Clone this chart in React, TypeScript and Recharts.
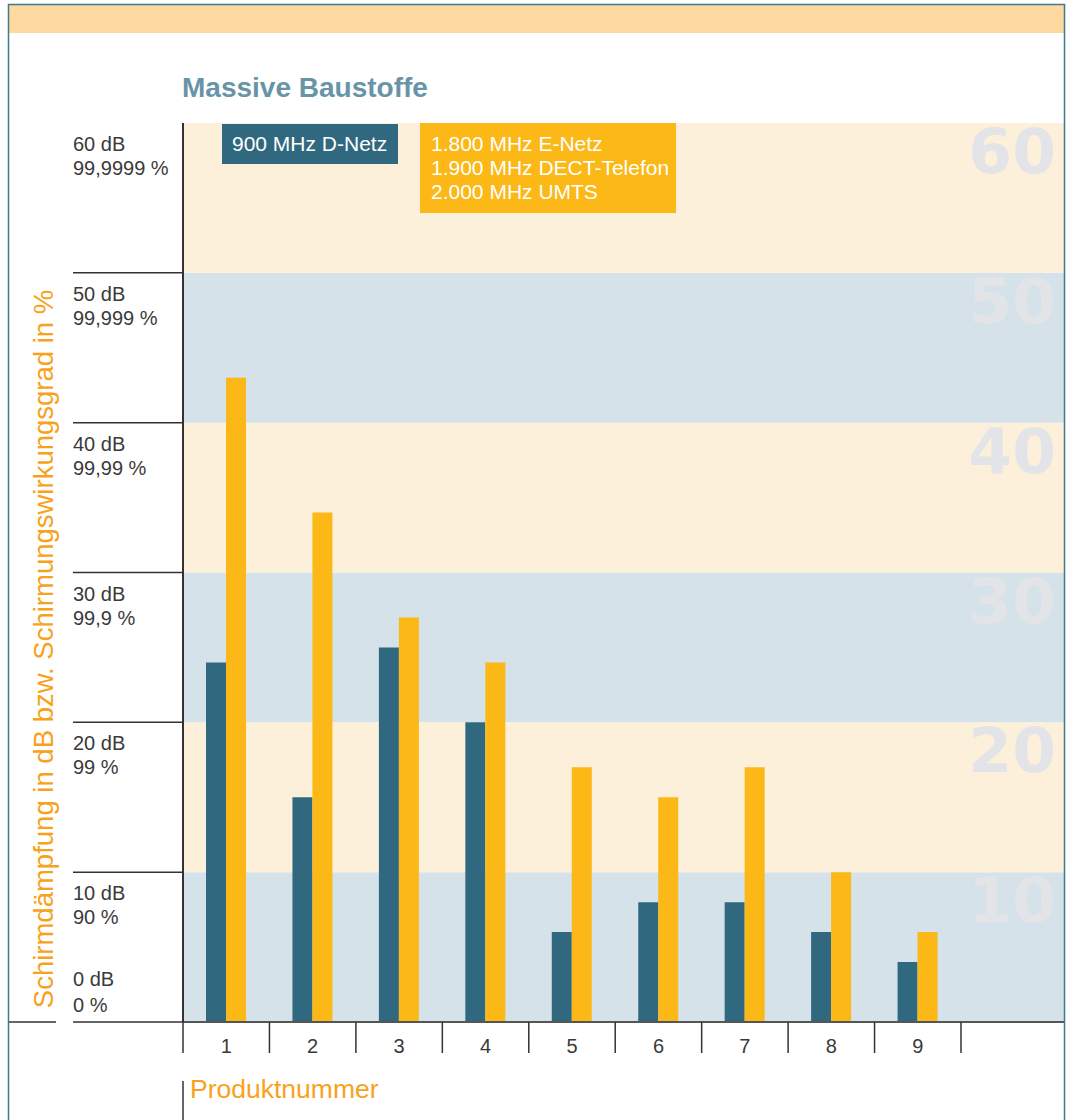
import React from 'react';
import { BarChart, Bar, XAxis, YAxis, ReferenceArea } from 'recharts';

// ---------- data ----------
const products = ['1', '2', '3', '4', '5', '6', '7', '8', '9'];
const dNetz900 = [24, 15, 25, 20, 6, 8, 8, 6, 4];
const highFreq = [43, 34, 27, 24, 17, 15, 17, 10, 6];
const yTicks = [0, 10, 20, 30, 40, 50, 60];
const yDbLabels = ['0 dB', '10 dB', '20 dB', '30 dB', '40 dB', '50 dB', '60 dB'];
const yPercentLabels = ['0 %', '90 %', '99 %', '99,9 %', '99,99 %', '99,999 %', '99,9999 %'];
const bandStarts = [0, 10, 20, 30, 40, 50];
const bandNumbers = ['10', '20', '30', '40', '50', '60'];
const titleText = 'Massive Baustoffe';
const series1Name = '900 MHz D-Netz';
const series2Lines = ['1.800 MHz E-Netz', '1.900 MHz DECT-Telefon', '2.000 MHz UMTS'];
const yTitle = 'Schirmdämpfung in dB bzw. Schirmungswirkungsgrad in %';
const xTitle = 'Produktnummer';

const data = products.map((p, i) => ({ product: p, d900: dNetz900[i], hf: highFreq[i] }));

// ---------- style / layout ----------
const W = 1072;
const H = 1120;
const PLOT_LEFT = 183;
const PLOT_RIGHT = 1064;
const PLOT_TOP = 123;
const PLOT_BOTTOM = 1022;
const PAD_RIGHT = 103;
const BW = (PLOT_RIGHT - PLOT_LEFT - PAD_RIGHT) / products.length;
const FONT = '"Liberation Sans", Arial, Helvetica, sans-serif';
const TEAL = '#30697f';
const ORANGE = '#fbb817';
const BAND_BLUE = '#d5e2ea';
const BAND_ORANGE = '#fdf0da';
const TEXT = '#3a3a3a';
const TITLE_ORANGE = '#f8a21c';
const BORDER = '#3f7a8e';
const Y_DOMAIN: [number, number] = [0, 60];

const YTick = (props: any) => {
  const { y, payload } = props;
  const idx = yTicks.indexOf(payload.value);
  const v = payload.value;
  const isTop = v === yTicks[yTicks.length - 1];
  const isZero = v === 0;
  const t1 = isZero ? y - 36 : y + 28;
  const t2 = isZero ? y - 10 : y + 52;
  return (
    <g>
      {!isTop && <line x1={73} x2={PLOT_LEFT} y1={y} y2={y} stroke="#333" strokeWidth={1.5} />}
      {isZero && <line x1={8} x2={56} y1={y} y2={y} stroke="#333" strokeWidth={1.5} />}
      <text x={73} y={t1} fontFamily={FONT} fontSize={20} fill={TEXT}>{yDbLabels[idx]}</text>
      <text x={73} y={t2} fontFamily={FONT} fontSize={20} fill={TEXT}>{yPercentLabels[idx]}</text>
    </g>
  );
};

const XTick = (props: any) => {
  const { x, payload, index } = props;
  const last = index === products.length - 1;
  return (
    <g>
      <line x1={x - BW / 2} x2={x - BW / 2} y1={PLOT_BOTTOM} y2={PLOT_BOTTOM + 31} stroke="#333" strokeWidth={1.5} />
      {last && <line x1={x + BW / 2} x2={x + BW / 2} y1={PLOT_BOTTOM} y2={PLOT_BOTTOM + 31} stroke="#333" strokeWidth={1.5} />}
      <text x={x} y={PLOT_BOTTOM + 31} textAnchor="middle" fontFamily={FONT} fontSize={20} fill={TEXT}>
        {payload.value}
      </text>
    </g>
  );
};

const BandNumber = (props: any) => {
  const { viewBox, text } = props;
  if (!viewBox) return null;
  return (
    <text
      x={viewBox.x + viewBox.width - 8}
      y={viewBox.y + 50}
      textAnchor="end"
      fontFamily='"DejaVu Sans", sans-serif'
      fontWeight="bold"
      fontSize={63}
      fill="#e3e4e8"
    >
      {text}
    </text>
  );
};

export default function App() {
  return (
    <div style={{ position: 'absolute', left: 0, top: 0, width: W, height: H, background: '#fff' }}>
      {/* background bands, drawn with the same y scale (no x padding, so they span the full plot width) */}
      <div style={{ position: 'absolute', left: 0, top: 0, zIndex: 0 }}>
        <BarChart
          width={W}
          height={H}
          data={data}
          margin={{ top: PLOT_TOP, right: W - PLOT_RIGHT, bottom: 0, left: 0 }}
        >
          <XAxis dataKey="product" height={H - PLOT_BOTTOM} axisLine={false} tickLine={false} tick={false} />
          <YAxis width={PLOT_LEFT} domain={Y_DOMAIN} ticks={yTicks} axisLine={false} tickLine={false} tick={false} />
          {bandStarts.map((s, i) => (
            <ReferenceArea
              key={s}
              y1={s}
              y2={s + 10}
              fill={i % 2 === 0 ? BAND_BLUE : BAND_ORANGE}
              fillOpacity={1}
              stroke="none"
              ifOverflow="visible"
              label={<BandNumber text={bandNumbers[i]} />}
            />
          ))}
          <Bar dataKey="d900" fill="none" fillOpacity={0} isAnimationActive={false} />
        </BarChart>
      </div>
      <div style={{ position: 'absolute', left: 0, top: 0, zIndex: 1 }}>
        <BarChart
          width={W}
          height={H}
          data={data}
          margin={{ top: PLOT_TOP, right: W - PLOT_RIGHT, bottom: 0, left: 0 }}
          barGap={0}
        >
          <XAxis
            dataKey="product"
            height={H - PLOT_BOTTOM}
            padding={{ left: 0, right: PAD_RIGHT }}
            axisLine={{ stroke: '#555', strokeWidth: 2 }}
            tickLine={false}
            tick={<XTick />}
            interval={0}
          />
          <YAxis
            width={PLOT_LEFT}
            domain={Y_DOMAIN}
            ticks={yTicks}
            interval={0}
            axisLine={{ stroke: '#333', strokeWidth: 2 }}
            tickLine={false}
            tick={<YTick />}
          />
          <Bar dataKey="d900" name={series1Name} fill={TEAL} barSize={20} isAnimationActive={false} />
          <Bar dataKey="hf" name={series2Lines.join(', ')} fill={ORANGE} barSize={20} isAnimationActive={false} />
        </BarChart>
      </div>
      <svg
        width={W}
        height={H}
        style={{ position: 'absolute', left: 0, top: 0, pointerEvents: 'none', zIndex: 2 }}
      >
        <rect x={9} y={5} width={1055} height={28} fill="#fdd9a0" />
        <rect x={8.5} y={4.5} width={1056} height={1130} fill="none" stroke={BORDER} strokeWidth={1.5} />
        <text x={182} y={97} fontFamily={FONT} fontWeight="bold" fontSize={28} fill="#6894a8">
          {titleText}
        </text>
        <rect x={222} y={124} width={176} height={40} fill={TEAL} />
        <text x={232} y={151} fontFamily={FONT} fontSize={21} fill="#fff">{series1Name}</text>
        <rect x={420} y={123} width={256} height={90} fill={ORANGE} />
        {series2Lines.map((l, i) => (
          <text key={l} x={431} y={151 + i * 24} fontFamily={FONT} fontSize={21} fill="#fff">{l}</text>
        ))}
        <text
          x={0}
          y={0}
          transform={`translate(53, 649) rotate(-90)`}
          textAnchor="middle"
          fontFamily={FONT}
          fontSize={27.5}
          fill={TITLE_ORANGE}
        >
          {yTitle}
        </text>
        <line x1={183} x2={183} y1={1081} y2={H} stroke="#333" strokeWidth={1.5} />
        <text x={190} y={1098} fontFamily={FONT} fontSize={26.5} fill={TITLE_ORANGE}>{xTitle}</text>
      </svg>
    </div>
  );
}
